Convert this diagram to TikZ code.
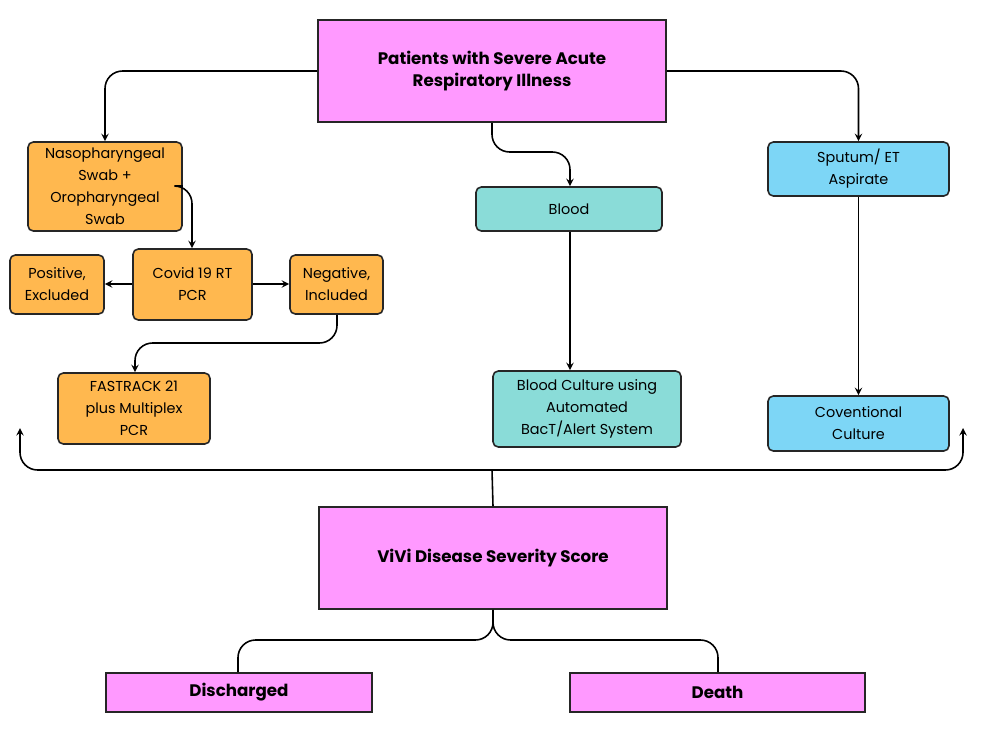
\documentclass[tikz,border=0pt]{standalone}
\usepackage{fontspec}
\setmainfont{Poppins}
\begin{document}
\begin{tikzpicture}[x=0.02cm,y=-0.02cm,
 box/.style={draw=black!85,line width=0.9pt,rounded corners=3pt,align=center,inner sep=0pt,font=\fontsize{8.2}{12.5}\selectfont},
 pink/.style={box,fill=pinkc,rounded corners=0pt,font=\bfseries\fontsize{9.5}{12.5}\selectfont},
 orange/.style={box,fill=orangec},
 teal/.style={box,fill=tealc},
 blue/.style={box,fill=bluec},
 ln/.style={draw=black,line width=0.9pt,rounded corners=10pt},
 ar/.style={ln,-stealth}]
\definecolor{pinkc}{HTML}{FF99FF}
\definecolor{orangec}{HTML}{FFB84F}
\definecolor{tealc}{HTML}{8ADCD8}
\definecolor{bluec}{HTML}{7DD6F6}
\useasboundingbox (0,0) rectangle (986,740);
\newcommand{\bx}[6]{\node[#2,minimum width={(#5-#3)*0.02cm},minimum height={(#6-#4)*0.02cm}] (#1) at ({(#3+#5)/2},{(#4+#6)/2})}
\bx{top}{pink}{318}{20}{666}{122}{Patients with Severe Acute\\Respiratory Illness};
\bx{naso}{orange}{28}{142}{182}{231}{Nasopharyngeal\\Swab +\\Oropharyngeal\\Swab};
\bx{blood}{teal}{476}{187}{662}{231}{Blood};
\bx{sput}{blue}{768}{142}{949}{196}{Sputum/ ET\\Aspirate};
\bx{pos}{orange}{10}{255}{104}{314}{Positive,\\Excluded};
\bx{covid}{orange}{133}{249}{252}{320}{Covid 19 RT\\PCR};
\bx{neg}{orange}{290}{255}{383}{314}{Negative,\\Included};
\bx{fast}{orange}{58}{373}{210}{444}{FASTRACK 21\\plus Multiplex\\PCR};
\bx{bcult}{teal}{493}{371}{681}{447}{Blood Culture using\\Automated\\BacT/Alert System};
\bx{conv}{blue}{768}{396}{949}{451}{Coventional\\Culture};
\bx{vivi}{pink}{319}{507}{667}{609}{ViVi Disease Severity Score};
\bx{dis}{pink}{106}{673}{372}{712}{Discharged};
\bx{death}{pink}{570}{673}{865}{712}{Death};
\coordinate (la) at (20,428);
\coordinate (ra) at (963,428);
\draw[ar] (top.west) -| (naso.north-|105,0);
\draw[ar] (top.east) -| (sput.north);
\draw[ar] (top.south) |- (570,152) -- (blood.north-|570,0);
\draw[ar] (naso.east|-0,186) -| (covid.north-|192,0);
\draw[ar] (covid.west|-0,284) -- (pos.east|-0,284);
\draw[ar] (covid.east|-0,284) -- (neg.west|-0,284);
\draw[ar] (neg.south-|337,0) |- (135,343) -- (fast.north-|135,0);
\draw[ar] (blood.south-|570,0) -- (bcult.north-|570,0);
\draw[ar] (sput.south) -- (conv.north);
\draw[ln] (vivi.north) -- (492,470);
\draw[ar] (492,470) -| (la);
\draw[ar] (492,470) -| (ra);
\draw[ln] (vivi.south) |- (238,640) -- (dis.north-|238,0);
\draw[ln] (vivi.south) |- (718,640) -- (death.north-|718,0);
\end{tikzpicture}
\end{document}
